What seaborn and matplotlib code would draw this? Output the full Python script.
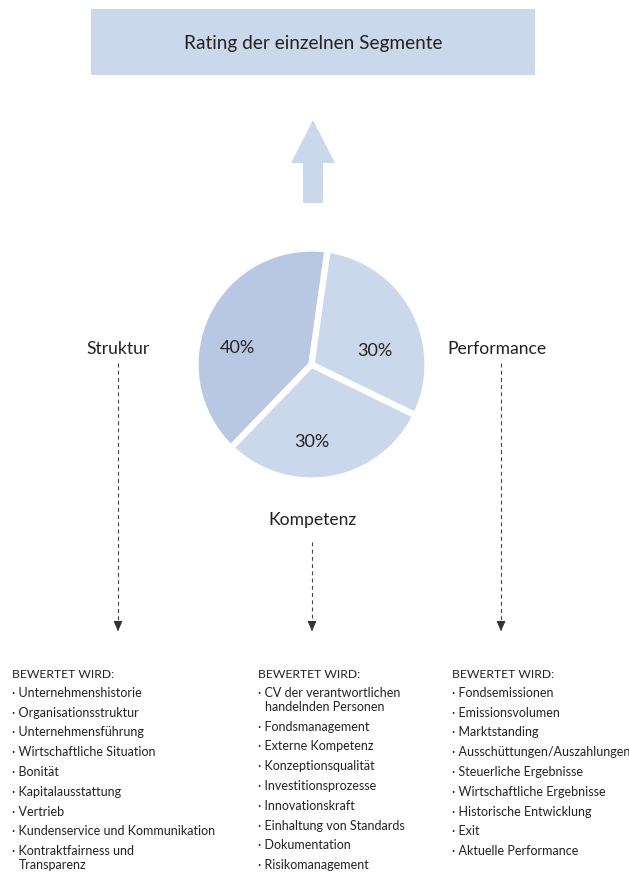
import matplotlib
matplotlib.use("Agg")
import matplotlib.pyplot as plt
import seaborn as sns
from matplotlib.patches import Rectangle, FancyArrow

# ---- data ----
segments = ["Struktur", "Kompetenz", "Performance"]
weights = [40, 30, 30]
header = "BEWERTET WIRD:"
title = "Rating der einzelnen Segmente"
items_struktur = ["Unternehmenshistorie", "Organisationsstruktur", "Unternehmensführung",
                  "Wirtschaftliche Situation", "Bonität", "Kapitalausstattung", "Vertrieb",
                  "Kundenservice und Kommunikation", "Kontraktfairness und\nTransparenz"]
items_kompetenz = ["CV der verantwortlichen\nhandelnden Personen", "Fondsmanagement",
                   "Externe Kompetenz", "Konzeptionsqualität", "Investitionsprozesse",
                   "Innovationskraft", "Einhaltung von Standards", "Dokumentation",
                   "Risikomanagement"]
items_performance = ["Fondsemissionen", "Emissionsvolumen", "Marktstanding",
                     "Ausschüttungen/Auszahlungen", "Steuerliche Ergebnisse",
                     "Wirtschaftliche Ergebnisse", "Historische Entwicklung", "Exit",
                     "Aktuelle Performance"]

sns.set_theme(style="white")
plt.rcParams["font.family"] = ["Lato", "DejaVu Sans"]

W, H = 629, 875
fig = plt.figure(figsize=(W / 100, H / 100), dpi=100)
ax = fig.add_axes([0, 0, 1, 1])
ax.set_xlim(0, W)
ax.set_ylim(H, 0)
ax.axis("off")

light = "#cbd8eb"
dark = "#b8c8e2"
txt = "#222222"

# title box
ax.add_patch(Rectangle((91, 9), 444, 66, color=light, lw=0))
ax.text(313, 43, title, ha="center", va="center", fontsize=13.7, color=txt)

# big arrow
ax.add_patch(FancyArrow(313, 203, 0, -83, width=20, head_width=44, head_length=43,
                        length_includes_head=True, color=light, lw=0))

# pie
cx, cy, r = 311.5, 364.5, 116
pax = fig.add_axes([(cx - r) / W, 1 - (cy + r) / H, 2 * r / W, 2 * r / H])
pal = [dark, light, light]
wedges, texts, autotexts = pax.pie(weights, colors=pal, startangle=82, counterclock=True,
                                   autopct="%d%%", pctdistance=0.65,
                                   wedgeprops=dict(edgecolor="white", linewidth=4.5),
                                   textprops=dict(fontsize=13, color=txt))
pax.set_xlim(-1, 1)
pax.set_ylim(-1, 1)
pax.set_aspect("equal")
# label placement as in reference
label_pos = [(-0.64, 0.14), (0.0, -0.67), (0.55, 0.12)]
for t, p in zip(autotexts, label_pos):
    t.set_position(p)

# segment names and dashed arrows
seg_pos = {"Struktur": (118, 349), "Kompetenz": (313, 520), "Performance": (497, 349)}
line_x = {"Struktur": 118, "Kompetenz": 312, "Performance": 501}
line_top = {"Struktur": 363, "Kompetenz": 542, "Performance": 363}
for s in segments:
    x, y = seg_pos[s]
    ax.text(x, y, s, ha="center", va="center", fontsize=12.6, color=txt)
    lx = line_x[s]
    ax.plot([lx, lx], [line_top[s], 628], color="#444444", lw=0.8, ls=(0, (3.5, 3)))
    ax.annotate("", xy=(lx, 634), xytext=(lx, 626),
                arrowprops=dict(arrowstyle="-|>,head_length=0.5,head_width=0.22",
                                color="#333333", lw=0.8))

# lists
cols = [(12, items_struktur), (258, items_kompetenz), (452, items_performance)]
step = 19.75
for x0, items in cols:
    ax.text(x0, 675, header, fontsize=8.7, color=txt, va="center")
    y = 693
    for it in items:
        parts = it.split("\n")
        ax.text(x0, y, "· " + parts[0], fontsize=9.0, color=txt, va="center")
        for extra in parts[1:]:
            y += 14
            ax.text(x0 + 7, y, extra, fontsize=9.0, color=txt, va="center")
        y += step

fig.savefig("out.png", dpi=100)
